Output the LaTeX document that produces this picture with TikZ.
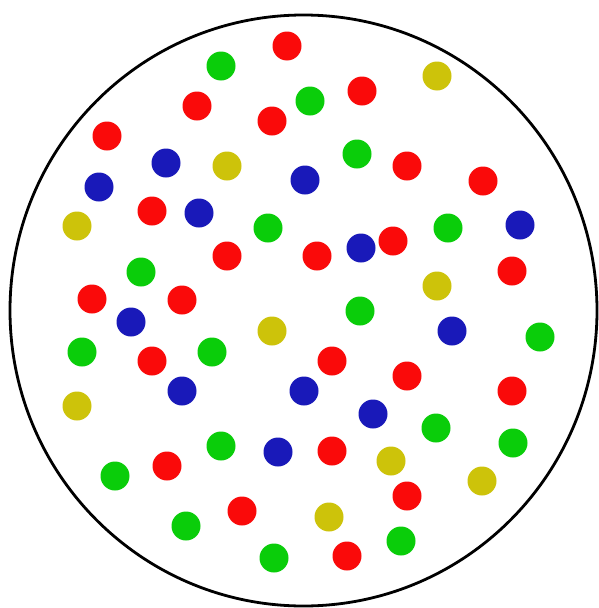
\documentclass[tikz,border=0pt]{standalone}
\definecolor{dotred}{RGB}{250,10,10}
\definecolor{dotgreen}{RGB}{10,205,10}
\definecolor{dotblue}{RGB}{25,25,185}
\definecolor{dotyellow}{RGB}{205,195,10}
\tikzset{
  dotr/.style={fill=dotred},
  dotg/.style={fill=dotgreen},
  dotb/.style={fill=dotblue},
  doty/.style={fill=dotyellow},
}
\newcommand{\dotrad}{14.5}
\begin{document}
\begin{tikzpicture}[x=1pt,y=-1pt]
\useasboundingbox (0,0) rectangle (599,608);
\fill[white] (0,0) rectangle (599,608);
\draw[line width=2.8pt] (303.5,310.5) ellipse [x radius=293.5, y radius=295.5];
% red
\foreach \p in {(287,46),(197,106),(272,121),(107,136),(152,211),(227,256),(92,299),(182,300),
  (362,91),(407,166),(483,181),(317,256),(393,241),(512,271),
  (152,361),(167,466),(242,511),
  (332,361),(407,376),(512,391),(332,451),(407,496),(347,556)}
  \fill[dotr] \p circle (\dotrad);
% green
\foreach \p in {(221,66),(268,228),(141,272),(310,101),(357,154),(448,228),
  (82,352),(212,352),(221,446),(115,476),(186,526),(274,558),
  (360,311),(540,337),(436,428),(513,443),(401,541)}
  \fill[dotg] \p circle (\dotrad);
% blue
\foreach \p in {(166,163),(99,187),(199,213),(305,180),(520,225),(361,248),
  (131,322),(182,391),(278,452),(452,331),(304,391),(373,414)}
  \fill[dotb] \p circle (\dotrad);
% yellow
\foreach \p in {(227,166),(77,226),(437,76),(437,286),(272,331),(77,406),
  (391,461),(482,481),(329,517)}
  \fill[doty] \p circle (\dotrad);
\end{tikzpicture}
\end{document}
